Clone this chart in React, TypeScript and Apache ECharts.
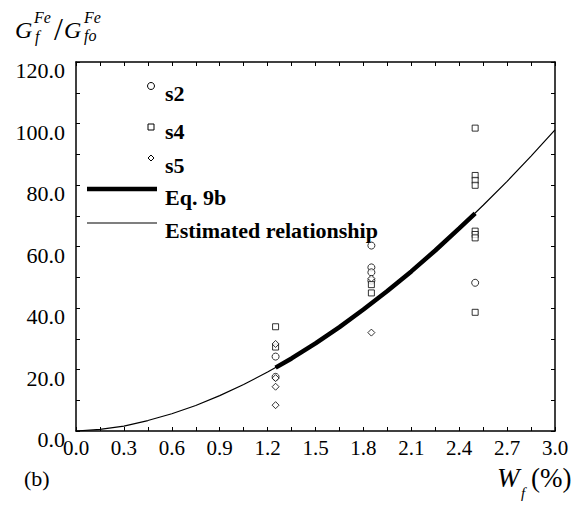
import React, { useEffect, useRef } from "react";
import * as echarts from "echarts";

// Measured points (x = W_f in %, y = G_f^Fe / G_fo^Fe)
const s2Points: number[][] = [
  [1.25, 24.2], [1.25, 17.6],
  [1.85, 60.3], [1.85, 53.2], [1.85, 51.6], [1.85, 48.9],
  [2.5, 48.2],
];
const s4Points: number[][] = [
  [1.25, 33.9], [1.25, 27.3],
  [1.85, 47.6], [1.85, 44.9],
  [2.5, 98.5], [2.5, 83.1], [2.5, 81.5], [2.5, 79.9],
  [2.5, 65.0], [2.5, 63.9], [2.5, 62.8], [2.5, 38.6],
];
const s5Points: number[][] = [
  [1.25, 28.3], [1.25, 17.2], [1.25, 14.4], [1.25, 8.4],
  [1.85, 49.6], [1.85, 32.0],
];

// Curves
const estX = [0, 0.15, 0.3, 0.45, 0.6, 0.75, 0.9, 1.05, 1.2, 1.35, 1.5, 1.65, 1.8, 1.95, 2.1, 2.25, 2.4, 2.55, 2.7, 2.85, 3.0];
const estY = [0, 0.5, 1.6, 3.4, 5.6, 8.3, 11.5, 15.1, 19.2, 23.6, 28.5, 33.8, 39.5, 45.5, 51.9, 58.7, 65.9, 73.4, 81.2, 89.4, 97.9];
const eqX = [1.25, 1.35, 1.5, 1.65, 1.8, 1.95, 2.1, 2.25, 2.4, 2.5];
const eqY = [20.6, 23.6, 28.5, 33.8, 39.5, 45.5, 51.9, 58.7, 65.9, 70.8];

const xMin = 0, xMax = 3, xStep = 0.3;
const yMin = 0, yMax = 120, yStep = 20;

const legendNames = ["s2", "s4", "s5", "Eq. 9b", "Estimated relationship"];

const SERIF = "Liberation Serif";

export default function App() {
  const ref = useRef<HTMLDivElement>(null);

  useEffect(() => {
    if (!ref.current) return;
    const chart = echarts.init(ref.current, undefined, { renderer: "svg" });

    const axisCommon = {
      type: "value" as const,
      axisLine: { show: true, onZero: false, lineStyle: { color: "#000", width: 1.5 } },
      axisTick: { show: true, inside: true, length: 4, lineStyle: { color: "#000", width: 1 } },
      minorTick: { show: true, splitNumber: 2, length: 4, lineStyle: { color: "#000", width: 1 } },
      splitLine: { show: false },
    };

    const txt = (x: number, y: number, text: string, font: string, align = "left") => ({
      type: "text",
      x,
      y,
      style: { text, font, fill: "#000", textAlign: align, textVerticalAlign: "middle" },
    });

    const option: any = {
      animation: false,
      backgroundColor: "#fff",
      textStyle: { fontFamily: SERIF },
      grid: { left: 76, right: 30, top: 62, bottom: 74 },
      xAxis: [
        {
          ...axisCommon, min: xMin, max: xMax, interval: xStep, position: "bottom",
          axisLabel: {
            color: "#000", fontFamily: SERIF, fontSize: 21, margin: 6,
            formatter: (v: number) => `{t|${v.toFixed(1)}}`,
            rich: { t: { fontFamily: SERIF, fontSize: 21, color: "#000" } },
          },
        },
        {
          ...axisCommon, min: xMin, max: xMax, interval: xStep, position: "top",
          axisLabel: { show: false },
        },
      ],
      yAxis: [
        {
          ...axisCommon, min: yMin, max: yMax, interval: yStep, position: "left",
          axisLabel: {
            color: "#000", fontFamily: SERIF, fontSize: 22, margin: 11, verticalAlign: "top",
            lineHeight: 17,
            formatter: (v: number) => `{t|${v.toFixed(1)}}`,
            rich: { t: { fontFamily: SERIF, fontSize: 22, color: "#000", lineHeight: 17 } },
          },
        },
        {
          ...axisCommon, min: yMin, max: yMax, interval: yStep, position: "right",
          axisLabel: { show: false },
        },
      ],
      series: [
        {
          name: legendNames[4], type: "line", xAxisIndex: 0, yAxisIndex: 0,
          data: estX.map((x, i) => [x, estY[i]]), showSymbol: false, symbol: "none",
          lineStyle: { color: "#000", width: 1.2 }, z: 2,
        },
        {
          name: legendNames[3], type: "line", xAxisIndex: 0, yAxisIndex: 0,
          data: eqX.map((x, i) => [x, eqY[i]]), showSymbol: false, symbol: "none",
          lineStyle: { color: "#000", width: 4.5 }, z: 3,
        },
        {
          name: legendNames[0], type: "scatter", data: s2Points, symbol: "circle", symbolSize: 7,
          itemStyle: { color: "#fff", borderColor: "#000", borderWidth: 1 }, z: 4,
        },
        {
          name: legendNames[1], type: "scatter", data: s4Points, symbol: "rect", symbolSize: 6,
          itemStyle: { color: "#fff", borderColor: "#000", borderWidth: 1 }, z: 4,
        },
        {
          name: legendNames[2], type: "scatter", data: s5Points, symbol: "diamond", symbolSize: 7,
          itemStyle: { color: "#fff", borderColor: "#000", borderWidth: 1 }, z: 4,
        },
      ],
      graphic: [
        // y-axis title: G_f^Fe / G_fo^Fe
        txt(15, 30, "G", `italic 24px ${SERIF}`),
        txt(34, 17, "Fe", `italic 16px ${SERIF}`),
        txt(35, 36, "f", `italic 16px ${SERIF}`),
        txt(54, 29, "/", `32px ${SERIF}`),
        txt(64, 30, "G", `italic 24px ${SERIF}`),
        txt(84, 17, "Fe", `italic 16px ${SERIF}`),
        txt(84, 35, "fo", `italic 16px ${SERIF}`),
        // x-axis title: W_f (%)
        txt(497, 478, "W", `italic 27px ${SERIF}`),
        txt(521, 493, "f", `italic 15px ${SERIF}`),
        txt(531, 478, "(%)", `27px ${SERIF}`),
        // panel label
        txt(24, 478, "(b)", `22px ${SERIF}`),
        // legend
        { type: "circle", shape: { cx: 151, cy: 86, r: 3.5 }, style: { fill: "#fff", stroke: "#000", lineWidth: 1 } },
        { type: "rect", shape: { x: 148, y: 124, width: 6, height: 6 }, style: { fill: "#fff", stroke: "#000", lineWidth: 1 } },
        { type: "polygon", shape: { points: [[151, 155], [154, 158], [151, 161], [148, 158]] }, style: { fill: "#fff", stroke: "#000", lineWidth: 1 } },
        { type: "line", shape: { x1: 87, y1: 189, x2: 157, y2: 189 }, style: { stroke: "#000", lineWidth: 4.5 } },
        { type: "line", shape: { x1: 87, y1: 223, x2: 157, y2: 223 }, style: { stroke: "#000", lineWidth: 1.2 } },
        txt(165, 93, legendNames[0], `bold 22px ${SERIF}`),
        txt(165, 131, legendNames[1], `bold 22px ${SERIF}`),
        txt(165, 165, legendNames[2], `bold 22px ${SERIF}`),
        txt(165, 197, legendNames[3], `bold 22px ${SERIF}`),
        txt(165, 230, legendNames[4], `bold 22px ${SERIF}`),
      ],
    };

    chart.setOption(option);
    return () => chart.dispose();
  }, []);

  return <div ref={ref} style={{ width: 585, height: 505, position: "absolute", left: 0, top: 0 }} />;
}
